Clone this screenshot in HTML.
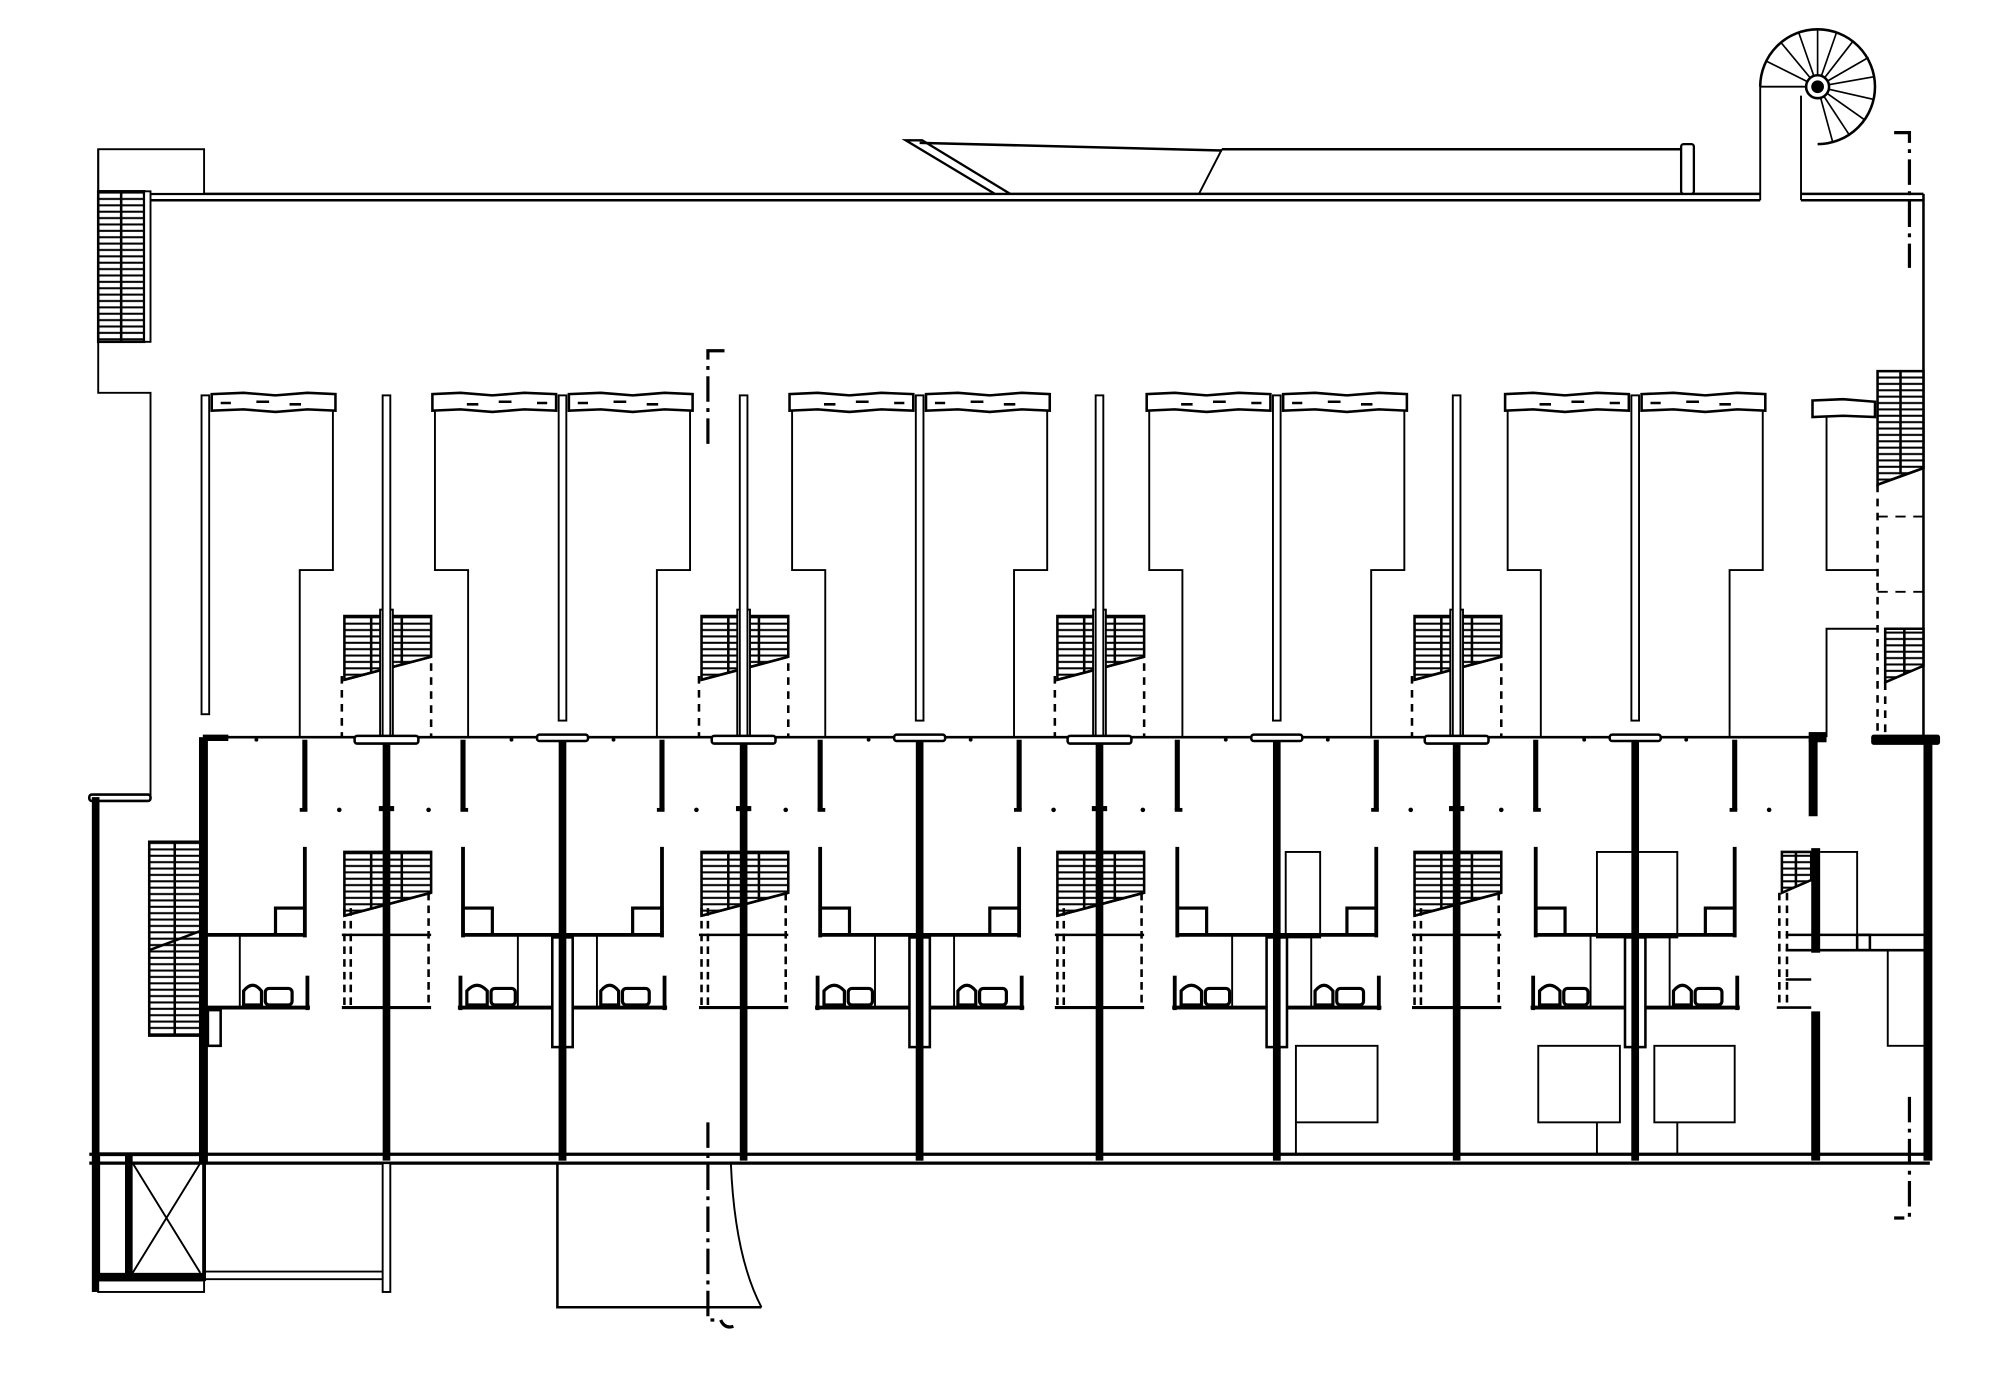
<!DOCTYPE html>
<html><head><meta charset="utf-8"><style>html,body{margin:0;padding:0;background:#fff}svg{display:block}</style></head>
<body>
<svg width="2000" height="1394" viewBox="0 0 1568 1093" preserveAspectRatio="none" xmlns="http://www.w3.org/2000/svg">
<defs>
<pattern id="h" width="6" height="5" patternUnits="userSpaceOnUse"><rect width="6" height="5" fill="#fff"/><line x1="0" y1="1" x2="6" y2="1" stroke="#000" stroke-width="1.6"/></pattern>
<g id="stair">
 <polygon points="-33,0 35,0 35,32 -33,50" fill="url(#h)" stroke="#000" stroke-width="2"/>
 <line x1="-33" y1="50" x2="35" y2="32" stroke="#000" stroke-width="2"/>
 <line x1="-12" y1="0" x2="-12" y2="44" stroke="#000" stroke-width="2"/>
 <line x1="12" y1="0" x2="12" y2="38" stroke="#000" stroke-width="2"/>
</g>
<g id="sc" stroke="#000" fill="none">
 <use href="#stair" y="483"/>
 <use href="#stair" y="668"/>
 <rect x="-5" y="478" width="10" height="100" fill="#fff" stroke-width="1.5"/>
 <rect x="-3" y="310" width="6" height="268" fill="#fff" stroke-width="1.5"/>
 <rect x="-3" y="578" width="6" height="332" fill="#000" stroke="none"/>
 <rect x="-25" y="577" width="50" height="6" rx="2" fill="#fff" stroke-width="2"/>
 <line x1="-35" y1="530" x2="-35" y2="578" stroke-width="2" stroke-dasharray="6,5"/>
 <line x1="35" y1="520" x2="35" y2="578" stroke-width="2" stroke-dasharray="6,5"/>
 <line x1="-33" y1="712" x2="-33" y2="790" stroke-width="2" stroke-dasharray="6,4"/>
 <line x1="-28" y1="712" x2="-28" y2="790" stroke-width="2" stroke-dasharray="6,4"/>
 <line x1="33" y1="700" x2="33" y2="790" stroke-width="2" stroke-dasharray="6,4"/>
 <line x1="-35" y1="733" x2="35" y2="733" stroke-width="2"/>
 <line x1="-35" y1="790" x2="35" y2="790" stroke-width="2.5"/>
 <rect x="-6" y="632" width="12" height="4" fill="#000" stroke="none"/>
</g>
<g id="half" stroke="#000" fill="none">
 <path d="M5,309 L30,308 L55,310 L80,308 L102,309 L102,322 L80,321 L55,323 L30,321 L5,322 Z" fill="#fff" stroke-width="2"/>
 <path d="M12,316 h8 M40,315 h10 M66,317 h9" stroke-width="2"/>
 <polyline points="100,322 100,447 74,447 74,578" stroke-width="1.5"/>
 <rect x="76" y="580" width="4" height="55" fill="#000" stroke="none"/>
 <line x1="74" y1="635" x2="80" y2="635" stroke-width="3"/>
 <circle cx="40" cy="580" r="1.5" fill="#000" stroke="none"/>
 <circle cx="105" cy="635" r="1.8" fill="#000" stroke="none"/>
 <line x1="78" y1="664" x2="78" y2="735" stroke-width="3"/>
 <line x1="0" y1="733" x2="78" y2="733" stroke-width="3"/>
 <rect x="55" y="712" width="23" height="21" stroke-width="2.5"/>
 <line x1="80" y1="765" x2="80" y2="792" stroke-width="3"/>
 <line x1="0" y1="790" x2="82" y2="790" stroke-width="3"/>
</g>
<g id="bathR" stroke="#000" fill="none">
 <line x1="27" y1="733" x2="27" y2="790" stroke-width="1.5"/>
 <path d="M30,788 L30,777 Q37,768 44,777 L44,788 Z" stroke-width="2.5"/>
 <rect x="47" y="775" width="21" height="13" rx="3" stroke-width="2.5"/>
</g>
<g id="bathL" stroke="#000" fill="none">
 <line x1="-35" y1="733" x2="-35" y2="790" stroke-width="1.5"/>
 <path d="M-75,788 L-75,777 Q-67,768 -59,777 L-59,788 Z" stroke-width="2.5"/>
 <rect x="-56" y="775" width="19" height="13" rx="3" stroke-width="2.5"/>
</g>
<g id="bw" stroke="#000" fill="none">
 <rect x="-3" y="310" width="6" height="255" fill="#fff" stroke-width="1.5"/>
 <rect x="-3" y="576" width="6" height="334" fill="#000" stroke="none"/>
 <rect x="-20" y="576" width="40" height="5" rx="2" fill="#fff" stroke-width="2"/>
 <rect x="-8" y="735" width="16" height="86" fill="#fff" stroke-width="2"/>
 <rect x="-3" y="735" width="6" height="175" fill="#000" stroke="none"/>
</g>
<g id="pair"><use href="#half"/><use href="#half" transform="scale(-1,1)"/><use href="#bathR"/><use href="#bathL"/><use href="#bw"/></g>
</defs>
<rect width="1568" height="1093" fill="#fff"/>
<g stroke="#000" fill="none">
<line x1="117" y1="152" x2="1380" y2="152" stroke-width="2"/>
<line x1="117" y1="157" x2="1380" y2="157" stroke-width="2"/>
<line x1="1412" y1="152" x2="1508" y2="152" stroke-width="2"/>
<line x1="1412" y1="157" x2="1508" y2="157" stroke-width="2"/>
<line x1="1508" y1="152" x2="1508" y2="578" stroke-width="2"/>
<line x1="1380" y1="157" x2="1380" y2="68" stroke-width="1.5"/>
<line x1="1412" y1="157" x2="1412" y2="75" stroke-width="1.5"/>
<line x1="1380" y1="68" x2="1425" y2="68" stroke-width="1.5"/>
<path d="M1380,68 A45,45 0 1 1 1425,113" stroke-width="2"/>
<g stroke-width="1.3">
<line x1="1425" y1="68" x2="1425" y2="23"/><line x1="1425" y1="68" x2="1440" y2="25"/><line x1="1425" y1="68" x2="1453" y2="32"/><line x1="1425" y1="68" x2="1465" y2="45"/><line x1="1425" y1="68" x2="1470" y2="60"/><line x1="1425" y1="68" x2="1469" y2="78"/><line x1="1425" y1="68" x2="1462" y2="94"/><line x1="1425" y1="68" x2="1450" y2="106"/><line x1="1425" y1="68" x2="1437" y2="112"/><line x1="1425" y1="68" x2="1410" y2="25"/><line x1="1425" y1="68" x2="1396" y2="33"/><line x1="1425" y1="68" x2="1385" y2="48"/></g>
<circle cx="1425" cy="68" r="9" fill="#fff" stroke-width="2"/><circle cx="1425" cy="68" r="5" fill="#000" stroke="none"/>
<polygon points="710,110 723,110 792,152 780,152" fill="#fff" stroke-width="1.8"/>
<line x1="721" y1="112" x2="958" y2="118" stroke-width="2"/>
<line x1="958" y1="117" x2="1318" y2="117" stroke-width="2"/>
<line x1="958" y1="117" x2="940" y2="152" stroke-width="1.5"/>
<rect x="1318" y="113" width="10" height="39" rx="2" fill="#fff" stroke-width="1.8"/>
<path d="M1485,104 H1497 V210" stroke-width="2.5" stroke-dasharray="20,5,3,5"/>
<path d="M568,275 H555 V350" stroke-width="2.5" stroke-dasharray="20,5,3,5"/>
<path d="M555,880 V1035 H565 Q568,1042 575,1040" stroke-width="2.5" stroke-dasharray="20,5,3,5"/>
<path d="M1497,860 V955 H1485" stroke-width="2.5" stroke-dasharray="20,5,3,5"/>
<rect x="77" y="117" width="83" height="35" stroke-width="1.5" fill="#fff"/>
<polyline points="77,117 77,308 118,308 118,625" stroke-width="1.5"/>
<rect x="77" y="150" width="36" height="118" fill="url(#h)" stroke-width="2"/>
<line x1="95" y1="150" x2="95" y2="268" stroke-width="2"/>
<rect x="113" y="150" width="5" height="118" fill="#fff" stroke-width="1.5"/>
<rect x="70" y="623" width="48" height="5" rx="2" fill="#fff" stroke-width="2"/>
<rect x="72" y="625" width="6" height="388" fill="#000" stroke="none"/>
<rect x="117" y="660" width="40" height="152" fill="url(#h)" stroke-width="2"/>
<line x1="137" y1="660" x2="137" y2="812" stroke-width="2"/>
<line x1="117" y1="745" x2="157" y2="730" stroke-width="2"/>
<rect x="156" y="578" width="7" height="335" fill="#000" stroke="none"/>
<rect x="163" y="792" width="10" height="28" stroke-width="2" fill="#fff"/>
<line x1="70" y1="905" x2="1513" y2="905" stroke-width="2.5"/>
<line x1="70" y1="912" x2="1513" y2="912" stroke-width="2.5"/>
<rect x="77" y="905" width="83" height="98" stroke-width="3"/>
<rect x="98" y="905" width="6" height="98" fill="#000" stroke="none"/>
<path d="M104,912 L157,998 M157,912 L104,998" stroke-width="1.5"/>
<rect x="74" y="998" width="86" height="6" fill="#000" stroke="none"/>
<rect x="77" y="1004" width="83" height="9" fill="#fff" stroke-width="1.5"/>
<line x1="160" y1="997" x2="303" y2="997" stroke-width="1.5"/>
<line x1="160" y1="1003" x2="303" y2="1003" stroke-width="1.5"/>
<rect x="300" y="912" width="6" height="101" fill="#fff" stroke-width="1.5"/>
<polyline points="437,912 437,1025 597,1025" stroke-width="2"/>
<path d="M573,912 Q576,985 597,1025" stroke-width="1.5"/>
<line x1="160" y1="578" x2="1422" y2="578" stroke-width="2"/>
<rect x="158" y="310" width="6" height="250" fill="#fff" stroke-width="1.5"/>
<rect x="159" y="576" width="20" height="5" fill="#000" stroke="none"/>
</g>
<use href="#half" x="161"/><use href="#bathR" x="161"/>
<use href="#pair" x="441"/><use href="#pair" x="721"/><use href="#pair" x="1001"/><use href="#pair" x="1282"/>
<use href="#sc" x="303"/><use href="#sc" x="583"/><use href="#sc" x="862"/><use href="#sc" x="1142"/>
<g stroke="#000" fill="none">
<rect x="1008" y="668" width="27" height="67" stroke-width="1.5"/>
<rect x="1016" y="820" width="64" height="60" stroke-width="1.5"/>
<line x1="1016" y1="880" x2="1016" y2="905" stroke-width="1.5"/>
<rect x="1252" y="668" width="63" height="67" stroke-width="1.5"/>
<rect x="1206" y="820" width="64" height="60" stroke-width="1.5"/>
<rect x="1297" y="820" width="63" height="60" stroke-width="1.5"/>
<line x1="1252" y1="880" x2="1252" y2="905" stroke-width="1.5"/>
<line x1="1315" y1="880" x2="1315" y2="905" stroke-width="1.5"/>
<path d="M1421,314 L1445,313 L1470,315 L1470,327 L1445,326 L1421,327 Z" fill="#fff" stroke-width="2"/>
<polyline points="1432,327 1432,447 1472,447" stroke-width="1.5"/>
<polyline points="1432,578 1432,493 1472,493" stroke-width="1.5"/>
<polygon points="1472,291 1508,291 1508,367 1472,380" fill="url(#h)" stroke-width="2"/>
<line x1="1490" y1="291" x2="1490" y2="372" stroke-width="2"/>
<line x1="1472" y1="380" x2="1508" y2="367" stroke-width="2"/>
<polygon points="1478,493 1508,493 1508,522 1478,535" fill="url(#h)" stroke-width="2"/>
<line x1="1493" y1="493" x2="1493" y2="528" stroke-width="2"/>
<line x1="1472" y1="380" x2="1472" y2="578" stroke-width="2" stroke-dasharray="6,5"/>
<line x1="1478" y1="535" x2="1478" y2="578" stroke-width="2" stroke-dasharray="6,5"/>
<path d="M1472,405 H1508 M1472,464 H1508" stroke-width="1.5" stroke-dasharray="8,6"/>
<rect x="1418" y="574" width="14" height="8" fill="#000" stroke="none"/>
<rect x="1418" y="580" width="7" height="60" fill="#000" stroke="none"/>
<rect x="1467" y="576" width="54" height="8" rx="2" fill="#000" stroke="none"/>
<rect x="1508" y="580" width="7" height="330" fill="#000" stroke="none"/>
<rect x="1420" y="665" width="7" height="82" fill="#000" stroke="none"/>
<rect x="1420" y="793" width="7" height="117" fill="#000" stroke="none"/>
<polygon points="1397,668 1420,668 1420,690 1397,700" fill="url(#h)" stroke-width="2"/>
<line x1="1408" y1="668" x2="1408" y2="695" stroke-width="2"/>
<line x1="1395" y1="700" x2="1395" y2="790" stroke-width="2" stroke-dasharray="6,4"/>
<line x1="1401" y1="700" x2="1401" y2="790" stroke-width="2" stroke-dasharray="6,4"/>
<polyline points="1427,668 1456,668 1456,738" stroke-width="1.5"/>
<path d="M1400,733 H1508 M1400,745 H1508 M1400,768 H1420" stroke-width="2"/>
<rect x="1456" y="733" width="10" height="12" stroke-width="2"/>
<polyline points="1480,745 1480,820 1508,820" stroke-width="1.5"/>
<line x1="1393" y1="790" x2="1420" y2="790" stroke-width="2"/>
</g>
</svg>
</body></html>
